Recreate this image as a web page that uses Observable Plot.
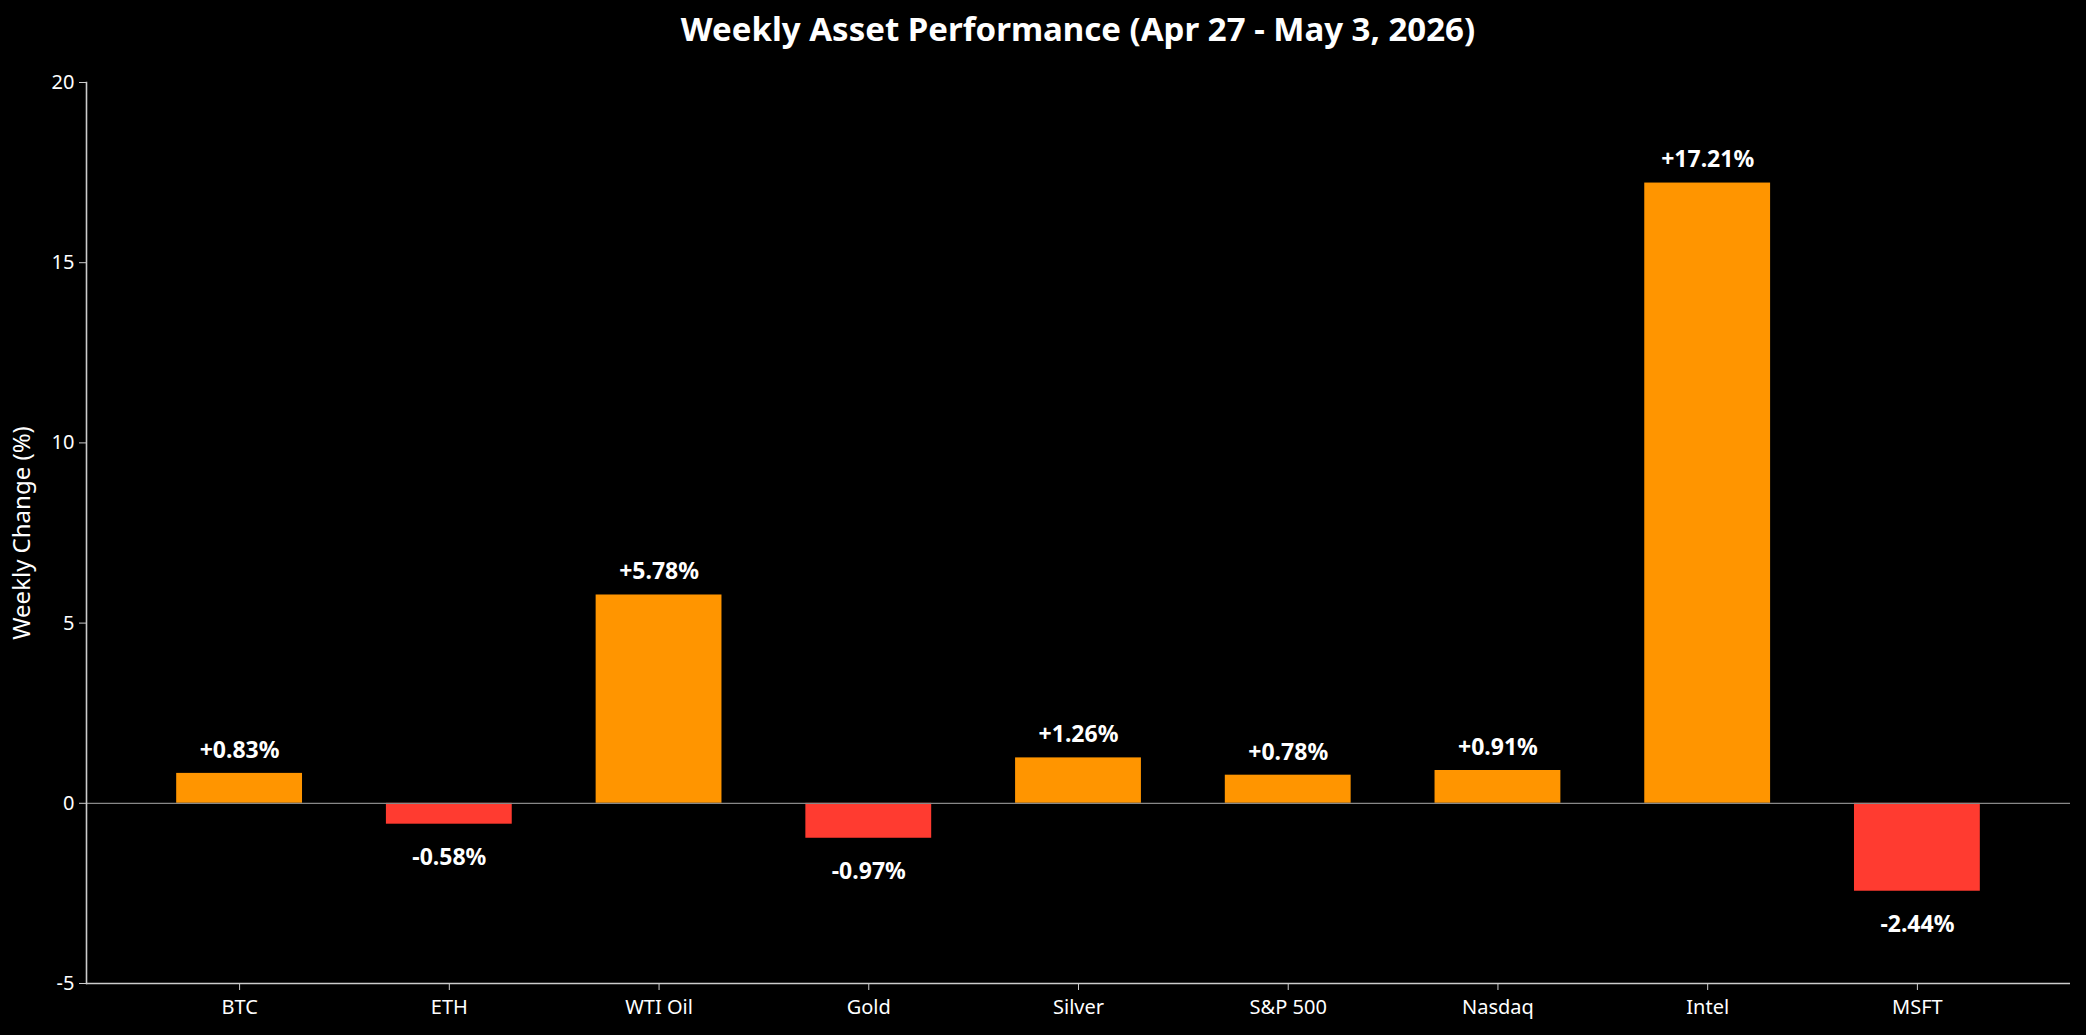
<!DOCTYPE html>
<html>
<head>
<meta charset="utf-8">
<script src="https://cdn.jsdelivr.net/npm/d3@7"></script>
<script src="https://cdn.jsdelivr.net/npm/@observablehq/plot@0.6"></script>
<style>
  html, body { margin: 0; padding: 0; background: #000; }
  body { width: 2086px; height: 1035px; overflow: hidden; font-family: "Noto Sans", sans-serif; }
  #title { height: 58px; line-height: 58px; padding-left: 86px; padding-right: 16px; text-align: center;
           color: #fff; font-weight: bold; font-size: 33px; box-sizing: border-box; width: 2086px; }
  #chart svg { display: block; }
  #chart g[aria-label="y-axis label"] { font-size: 24px; }
</style>
</head>
<body>
<div id="title">Weekly Asset Performance (Apr 27 - May 3, 2026)</div>
<div id="chart"></div>
<script>
const assets = ["BTC", "ETH", "WTI Oil", "Gold", "Silver", "S&P 500", "Nasdaq", "Intel", "MSFT"];
const changes = [0.83, -0.58, 5.78, -0.97, 1.26, 0.78, 0.91, 17.21, -2.44];
const yTicks = [-5, 0, 5, 10, 15, 20];
const upColor = "#FF9500";
const downColor = "#FF3B30";

const data = assets.map((name, i) => ({name, value: changes[i]}));
const fmt = v => (v > 0 ? "+" : "") + v.toFixed(2) + "%";

const chart = Plot.plot({
  width: 2086,
  height: 977,
  marginLeft: 86,
  marginRight: 16,
  marginTop: 24,
  marginBottom: 52,
  style: {background: "#000", color: "#fff", fontFamily: "Noto Sans, sans-serif"},
  x: {domain: assets, paddingInner: 0.4, paddingOuter: 0.43, round: false, label: null},
  y: {domain: [-5, 20], label: null},
  marks: [
    Plot.barY(data, {x: "name", y: "value", fill: d => d.value >= 0 ? upColor : downColor}),
    Plot.ruleY([0], {stroke: "#888", strokeWidth: 1.2}),
    Plot.ruleY([-5], {stroke: "#ccc", strokeWidth: 1.6}),
    Plot.frame({anchor: "left", stroke: "#ccc", strokeWidth: 1.6}),
    Plot.axisY({ticks: yTicks, tickFormat: d => String(d), tickSize: 7, tickPadding: 5, fontSize: 20,
      stroke: "#ccc", fill: "#fff", label: "Weekly Change (%)", labelAnchor: "center", labelArrow: "none",
      labelOffset: 74}),
    Plot.axisX({tickSize: 7, tickPadding: 9, fontSize: 20, stroke: "#ccc", fill: "#fff", label: null}),
    Plot.text(data.filter(d => d.value >= 0), {x: "name", y: "value", text: d => fmt(d.value),
      dy: -23, fill: "#fff", fontWeight: "bold", fontSize: 23}),
    Plot.text(data.filter(d => d.value < 0), {x: "name", y: "value", text: d => fmt(d.value),
      dy: 33, fill: "#fff", fontWeight: "bold", fontSize: 23})
  ]
});
document.getElementById("chart").append(chart);
</script>
</body>
</html>
